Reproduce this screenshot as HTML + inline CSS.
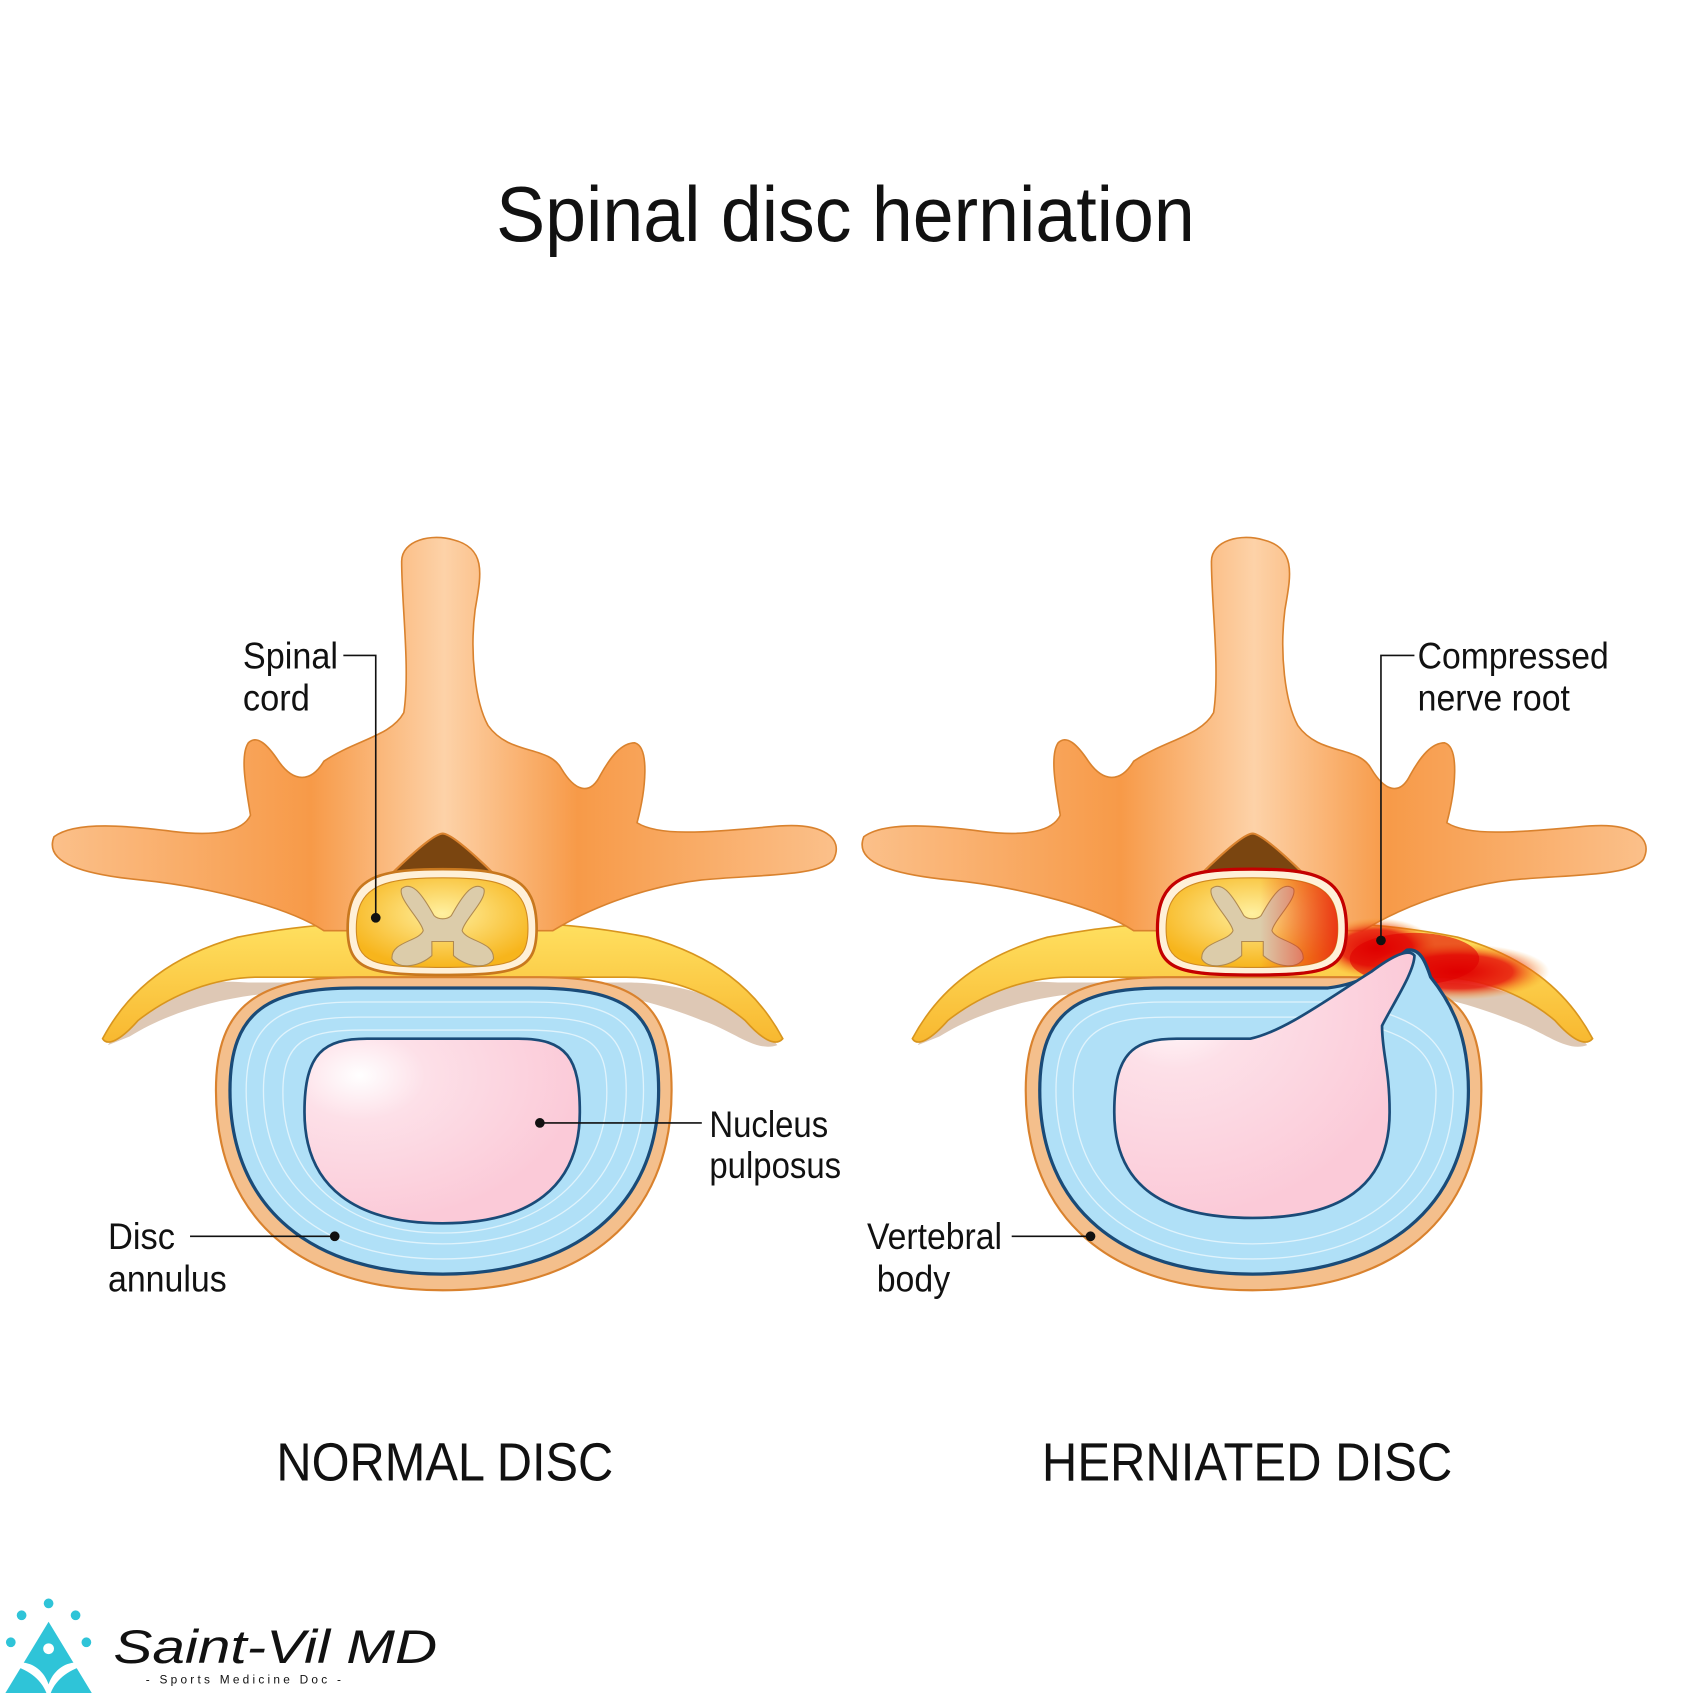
<!DOCTYPE html>
<html><head><meta charset="utf-8">
<style>
html,body{margin:0;padding:0;background:#fff;}
svg{display:block;}
text{font-family:"Liberation Sans",Arial,sans-serif;fill:#111;}
</style></head>
<body>
<svg width="1693" height="1693" viewBox="0 0 1568 1568" xmlns="http://www.w3.org/2000/svg">
<defs>
  <linearGradient id="bone" x1="0" y1="0" x2="1" y2="0">
    <stop offset="0" stop-color="#fbc08a"/>
    <stop offset="0.33" stop-color="#f79a48"/>
    <stop offset="0.5" stop-color="#fdd2a8"/>
    <stop offset="0.67" stop-color="#f79a48"/>
    <stop offset="1" stop-color="#fbc08a"/>
  </linearGradient>
  <linearGradient id="root" x1="0" y1="0" x2="0" y2="1">
    <stop offset="0" stop-color="#ffe060"/>
    <stop offset="1" stop-color="#f8b830"/>
  </linearGradient>
  <radialGradient id="cord" cx="0.5" cy="0.4" r="0.6">
    <stop offset="0" stop-color="#fff0a0"/>
    <stop offset="1" stop-color="#f7b51c"/>
  </radialGradient>
  <linearGradient id="cordred" x1="0" y1="0" x2="1" y2="0">
    <stop offset="0.55" stop-color="#e82010" stop-opacity="0"/>
    <stop offset="1" stop-color="#e82010" stop-opacity="0.85"/>
  </linearGradient>
  <radialGradient id="nuc" cx="0.2" cy="0.2" r="0.8">
    <stop offset="0" stop-color="#ffffff"/>
    <stop offset="0.3" stop-color="#fde0e8"/>
    <stop offset="1" stop-color="#fbcad8"/>
  </radialGradient>
  <radialGradient id="red" cx="0.5" cy="0.5" r="0.5">
    <stop offset="0" stop-color="#e00000"/>
    <stop offset="0.6" stop-color="#e82010" stop-opacity="0.9"/>
    <stop offset="1" stop-color="#f8a020" stop-opacity="0"/>
  </radialGradient>
  <g id="vert">
    <!-- root shadow -->
    <path d="M100,968 C125,925 165,905 230,910 L580,910 C640,910 690,930 720,968 C700,975 680,955 650,945 C600,925 560,918 520,918 L290,918 C220,918 160,935 120,960 Z" fill="#a0602a" opacity="0.35"/>
    <!-- nerve roots -->
    <path d="M95,962 C120,915 160,885 220,868 C260,860 300,856 330,855 L490,855 C520,856 560,860 600,868 C660,885 700,915 725,962 C718,970 705,962 690,945 C660,920 620,905 580,905 L240,905 C200,905 160,920 128,945 C113,962 100,970 95,962Z" fill="url(#root)" stroke="#d8951e" stroke-width="1.5"/>
    <!-- posterior arch -->
    <path d="M50,775 C70,760 120,765 160,770 C200,775 225,770 232,755 C228,730 222,700 230,688 C238,680 248,690 258,705 C272,725 288,725 300,705 C330,685 362,682 374,660 C380,620 372,560 372,520 C372,500 400,494 420,500 C452,508 445,535 440,565 C435,605 440,650 452,672 C472,700 508,690 520,712 C532,732 546,738 556,718 C566,700 576,688 588,688 C602,692 598,732 590,762 C612,776 662,770 722,765 C762,762 782,776 772,796 C760,812 700,810 650,815 C590,822 540,845 512,862 L300,862 C270,842 200,822 130,815 C80,810 40,800 50,775 Z" fill="url(#bone)" stroke="#d9822e" stroke-width="1.5"/>
    <!-- notch -->
    <path d="M410,772 C420,772 460,810 478,832 L342,832 C360,810 400,772 410,772Z" fill="#7a4510" stroke="#d9822e" stroke-width="2"/>
    <!-- body -->
    <path d="M200,1010 C200,930 240,905 330,905 L500,905 C590,905 622,930 622,1010 C622,1130 540,1195 410,1195 C280,1195 200,1130 200,1010Z" fill="#f4bf8c" stroke="#d9822e" stroke-width="2"/>
  </g>
  <g id="cordg">
    <path d="M322,860 C322,812 350,805 410,805 C470,805 497,812 497,860 C497,898 480,903 410,903 C340,903 322,898 322,860Z" fill="#fff0d8" stroke="#c8781e" stroke-width="2.5"/>
    <path d="M330,860 C330,820 355,813 410,813 C465,813 489,820 489,860 C489,892 475,896 410,896 C345,896 330,892 330,860Z" fill="url(#cord)" stroke="#d08a20" stroke-width="1"/>
    <path d="M372,823 C382,815 392,830 402,848 C406,852 414,852 418,848 C428,830 438,815 448,823 C452,832 430,852 428,862 C432,872 458,872 457,888 C452,898 432,896 420,885 L420,872 L400,872 L400,885 C388,896 368,898 363,888 C362,872 388,872 392,862 C390,852 368,832 372,823Z" fill="#dcccaa" stroke="#b08a50" stroke-width="1"/>
  </g>
</defs>

<text x="783" y="223" font-size="72" text-anchor="middle" textLength="647" lengthAdjust="spacingAndGlyphs">Spinal disc herniation</text>

<!-- LEFT -->
<use href="#vert"/>
<path d="M213,1010 C213,935 250,915 330,915 L490,915 C580,915 610,935 610,1010 C610,1120 530,1180 410,1180 C290,1180 213,1120 213,1010Z" fill="#b0e0f7" stroke="#1a4b78" stroke-width="3"/>
<g fill="none" stroke="#e6f6fd" stroke-width="1.2" opacity="0.9">
  <path d="M228,1010 C228,945 262,928 330,928 L490,928 C570,928 596,945 596,1010 C596,1110 520,1166 410,1166 C300,1166 228,1110 228,1010Z"/>
  <path d="M244,1010 C244,955 272,942 332,942 L488,942 C558,942 580,955 580,1010 C580,1100 510,1152 410,1152 C310,1152 244,1100 244,1010Z"/>
  <path d="M262,1012 C262,965 282,954 336,954 L484,954 C546,954 562,965 562,1012 C562,1090 500,1142 410,1142 C320,1142 262,1090 262,1012Z"/>
</g>
<path d="M282,1030 C282,975 300,962 340,962 L480,962 C525,962 537,980 537,1030 C537,1100 490,1133 410,1133 C330,1133 282,1100 282,1030Z" fill="url(#nuc)" stroke="#1a4b78" stroke-width="2.5"/>
<use href="#cordg"/>

<!-- RIGHT -->
<g transform="translate(750,0)">
  <use href="#vert"/>
  <ellipse cx="525" cy="878" rx="55" ry="28" fill="url(#red)"/>
  <ellipse cx="600" cy="900" rx="85" ry="26" fill="url(#red)"/>
  <ellipse cx="560" cy="888" rx="60" ry="24" fill="#e00000" opacity="0.6"/>
  <path d="M213,1010 C213,935 250,915 330,915 L480,915 C520,910 540,890 553,880 C565,878 570,890 575,905 C595,930 610,960 610,1010 C610,1120 530,1180 410,1180 C290,1180 213,1120 213,1010Z" fill="#b0e0f7" stroke="#1a4b78" stroke-width="3"/>
  <g fill="none" stroke="#e6f6fd" stroke-width="1.2" opacity="0.9">
    <path d="M228,1010 C228,945 262,928 330,928 L480,928 C540,935 590,950 596,1010 C596,1110 520,1166 410,1166 C300,1166 228,1110 228,1010Z"/>
    <path d="M244,1010 C244,955 272,942 332,942 L470,942 C540,950 578,965 580,1010 C580,1100 510,1152 410,1152 C310,1152 244,1100 244,1010Z"/>
  </g>
  <path d="M282,1030 C282,975 300,962 340,962 L408,962 C440,955 480,925 520,900 C540,885 555,878 560,885 C560,900 540,930 530,950 C530,975 537,990 537,1030 C537,1100 490,1128 410,1128 C330,1128 282,1100 282,1030Z" fill="url(#nuc)" stroke="#1a4b78" stroke-width="2.5"/>
  <use href="#cordg"/>
  <path d="M330,860 C330,820 355,813 410,813 C465,813 489,820 489,860 C489,892 475,896 410,896 C345,896 330,892 330,860Z" fill="url(#cordred)"/>
  <path d="M322,860 C322,812 350,805 410,805 C470,805 497,812 497,860 C497,898 480,903 410,903 C340,903 322,898 322,860Z" fill="none" stroke="#c40000" stroke-width="3"/>
</g>

<!-- labels -->
<g font-size="34">
  <text x="225" y="619" textLength="88" lengthAdjust="spacingAndGlyphs">Spinal</text>
  <text x="225" y="658" textLength="62" lengthAdjust="spacingAndGlyphs">cord</text>
  <text x="657" y="1053" textLength="110" lengthAdjust="spacingAndGlyphs">Nucleus</text>
  <text x="657" y="1091" textLength="122" lengthAdjust="spacingAndGlyphs">pulposus</text>
  <text x="100" y="1157" textLength="62" lengthAdjust="spacingAndGlyphs">Disc</text>
  <text x="100" y="1196" textLength="110" lengthAdjust="spacingAndGlyphs">annulus</text>
  <text x="803" y="1157" textLength="125" lengthAdjust="spacingAndGlyphs">Vertebral</text>
  <text x="812" y="1196" textLength="68" lengthAdjust="spacingAndGlyphs">body</text>
  <text x="1313" y="619" textLength="177" lengthAdjust="spacingAndGlyphs">Compressed</text>
  <text x="1313" y="658" textLength="141" lengthAdjust="spacingAndGlyphs">nerve root</text>
</g>
<g stroke="#111" stroke-width="1.5" fill="none">
  <path d="M318,607 L348,607 L348,850"/>
  <path d="M500,1040 L650,1040"/>
  <path d="M176,1145 L310,1145"/>
  <path d="M937,1145 L1010,1145"/>
  <path d="M1310,607 L1279,607 L1279,871"/>
</g>
<g fill="#111">
  <circle cx="348" cy="850" r="4.5"/>
  <circle cx="500" cy="1040" r="4.5"/>
  <circle cx="310" cy="1145" r="4.5"/>
  <circle cx="1010" cy="1145" r="4.5"/>
  <circle cx="1279" cy="871" r="4.5"/>
</g>

<text x="412" y="1371" font-size="50" text-anchor="middle" textLength="312" lengthAdjust="spacingAndGlyphs">NORMAL DISC</text>
<text x="1155" y="1371" font-size="50" text-anchor="middle" textLength="380" lengthAdjust="spacingAndGlyphs">HERNIATED DISC</text>

<!-- logo -->
<g fill="#2fc4d8">
  <circle cx="45" cy="1485" r="4.5"/>
  <circle cx="20" cy="1496" r="4.5"/>
  <circle cx="70" cy="1496" r="4.5"/>
  <circle cx="10" cy="1521" r="4.5"/>
  <circle cx="80" cy="1521" r="4.5"/>
  <path d="M45,1502 L85,1568 L5,1568 Z"/>
</g>
<circle cx="45" cy="1527" r="5" fill="#fff"/>
<path d="M8,1542 C25,1535 40,1545 45,1560 C50,1545 65,1535 82,1542 C65,1545 52,1555 47,1568 L43,1568 C38,1555 25,1545 8,1542Z" fill="#fff"/>
<text x="105" y="1540" font-family="'DejaVu Serif','Liberation Serif',serif" font-style="italic" font-size="44" fill="#222" textLength="300" lengthAdjust="spacingAndGlyphs">Saint-Vil MD</text>
<text x="135" y="1559" font-size="11" letter-spacing="3" fill="#222">- Sports Medicine Doc -</text>
</svg>
</body></html>
